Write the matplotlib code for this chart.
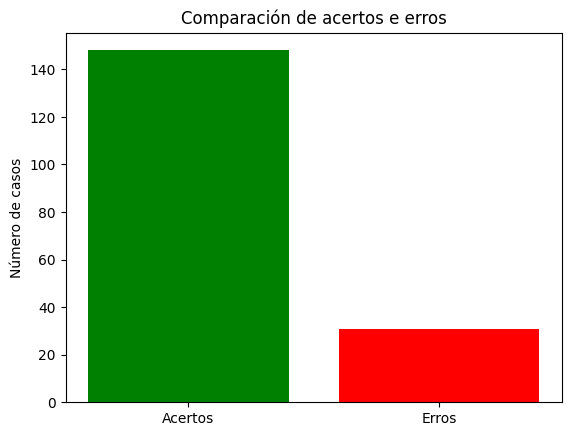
import matplotlib
matplotlib.use("Agg")
import matplotlib.pyplot as plt

categorias = ["Acertos", "Erros"]
valores = [148, 31]
cores = ["green", "red"]

plt.figure(figsize=(6.4, 4.8))
plt.bar(categorias, valores, color=cores)
plt.title("Comparación de acertos e erros")
plt.ylabel("Número de casos")
plt.savefig("out.png", dpi=100, bbox_inches="tight")
